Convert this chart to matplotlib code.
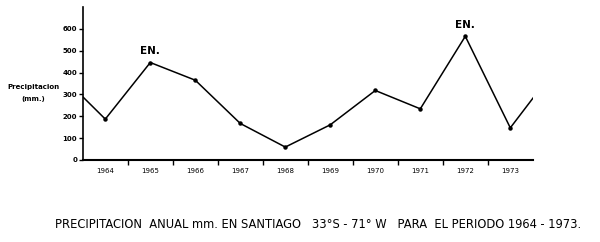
import matplotlib
matplotlib.use("Agg")
import matplotlib.pyplot as plt

# Precipitacion anual (mm) en Santiago
years = [1963, 1964, 1965, 1966, 1967, 1968, 1969, 1970, 1971, 1972, 1973, 1974]
precip = [391, 187, 446, 365, 167, 59, 161, 318, 234, 566, 147, 417]
year_labels = ["1964", "1965", "1966", "1967", "1968", "1969", "1970", "1971", "1972", "1973"]
en_years = [1965, 1972]

fig = plt.figure(figsize=(6, 2.42), dpi=100)
ax = fig.add_axes([0.138, 0.339, 0.75, 0.632])

# linea completa (se recorta en los bordes) y puntos solo 1964-1973
ax.plot(years, precip, color="black", lw=1.1, clip_on=True)
ax.plot(years[1:-1], precip[1:-1], "o", color="black", ms=2.2)

for y in en_years:
    v = precip[years.index(y)]
    ax.annotate("EN.", (y, v), xytext=(0, 4.5), textcoords="offset points",
                ha="center", va="bottom", fontsize=7.5, fontweight="bold")

ax.set_xlim(1963.5, 1973.5)
ax.set_ylim(0, 700)

# marcas entre años, etiquetas centradas en cada año
ax.set_xticks([1964.5 + i for i in range(9)])
ax.set_xticklabels([])
ax.set_xticks(years[1:-1], minor=True)
ax.set_xticklabels(year_labels, minor=True, fontsize=5)
ax.tick_params(axis="x", which="major", direction="out", length=3.5, width=1)
ax.tick_params(axis="x", which="minor", length=0, pad=6)

ax.set_yticks([0, 100, 200, 300, 400, 500, 600])
ax.set_yticklabels(["0", "100", "200", "300", "400", "500", "600"],
                   fontsize=5, fontweight="bold")
ax.tick_params(axis="y", direction="out", length=3, width=1, pad=1)

ax.spines["top"].set_visible(False)
ax.spines["right"].set_visible(False)
ax.spines["left"].set_linewidth(1.2)
ax.spines["bottom"].set_linewidth(1.5)

fig.text(0.055, 1 - 87 / 242, "Precipitacion", fontsize=5, fontweight="bold",
         ha="center", va="center")
fig.text(0.055, 1 - 99 / 242, "(mm.)", fontsize=5, fontweight="bold",
         ha="center", va="center")

fig.text(0.53, 1 - 224 / 242,
         "PRECIPITACION  ANUAL mm. EN SANTIAGO   33°S - 71° W   PARA  EL PERIODO 1964 - 1973.",
         fontsize=8.3, ha="center", va="center")

fig.savefig("out.png", dpi=100)
